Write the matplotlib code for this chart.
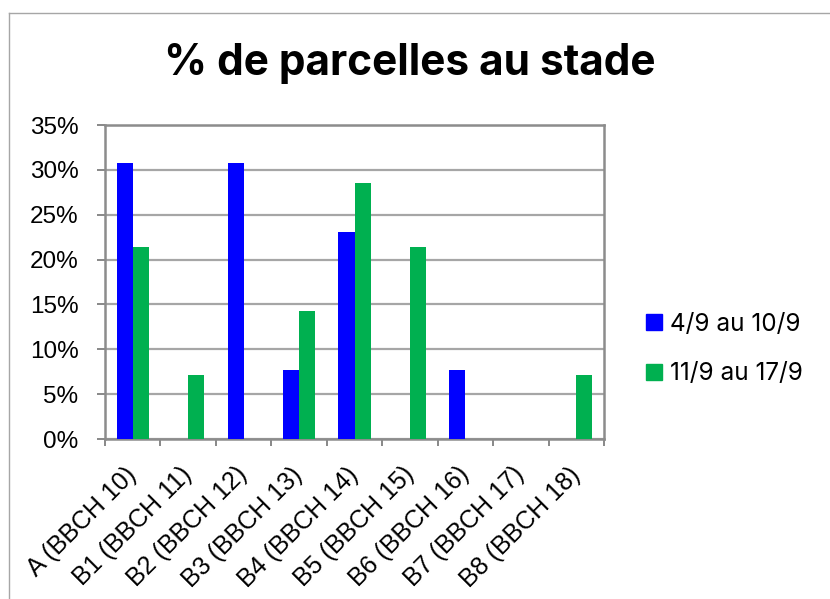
import matplotlib
matplotlib.use("Agg")
import matplotlib.pyplot as plt
from matplotlib.lines import Line2D
import numpy as np

categories = ["A (BBCH 10)", "B1 (BBCH 11)", "B2 (BBCH 12)", "B3 (BBCH 13)",
              "B4 (BBCH 14)", "B5 (BBCH 15)", "B6 (BBCH 16)", "B7 (BBCH 17)",
              "B8 (BBCH 18)"]
series_names = ["4/9 au 10/9", "11/9 au 17/9"]
week1 = [30.77, 0, 30.77, 7.69, 23.08, 0, 7.69, 0, 0]
week2 = [21.43, 7.14, 0, 14.29, 28.57, 21.43, 0, 0, 7.14]
yticks = [0, 5, 10, 15, 20, 25, 30, 35]
colors = ["#0000FF", "#00B050"]

fig = plt.figure(figsize=(8.30, 5.99), dpi=100)
ax = fig.add_axes([105/830, 1 - 439/599, (604-105)/830, (439-125)/599])

x = np.arange(len(categories))
w = 0.29
ax.bar(x - w/2, week1, w, color=colors[0], label=series_names[0], zorder=3)
ax.bar(x + w/2, week2, w, color=colors[1], label=series_names[1], zorder=3)

ax.set_xlim(-0.5, len(categories) - 0.5)
ax.set_ylim(0, 35)
ax.set_yticks(yticks)
ax.set_yticklabels([f"{v}%" for v in yticks], fontsize=17.5, family="Liberation Sans")
ax.yaxis.grid(True, color="#A6A6A6", linewidth=1.6, zorder=0)
ax.set_axisbelow(True)

ax.set_xticks(x)
ax.set_xticklabels(categories, rotation=45, ha="right", va="center",
                   rotation_mode="anchor", fontsize=18, family="Liberation Sans")
ax.tick_params(axis="x", which="major", length=0, pad=23)
ax.set_xticks(np.arange(-0.5, len(categories)), minor=True)
ax.tick_params(axis="x", which="minor", length=5, color="#888888", width=1.4)
ax.tick_params(axis="y", length=6, color="#888888", width=1.4, pad=13)

for s in ax.spines.values():
    s.set_color("#8C8C8C")
    s.set_linewidth(1.8)

fig.text(410/830, 1 - 64/599, "% de parcelles au stade", ha="center", va="center",
         fontsize=30.5, fontweight="bold", family="Inter")

handles = [Line2D([0], [0], marker="s", linestyle="none", markersize=11,
                  markerfacecolor=c, markeredgecolor=c) for c in colors]
fig.legend(handles, series_names, loc="center left",
           bbox_to_anchor=(620/830, 1 - 349/599), frameon=False,
           prop={"family": "Inter", "size": 17.5}, handletextpad=0.15,
           labelspacing=1.1, handlelength=1.0)

# outer chart frame
fig.add_artist(Line2D([9/830, 9/830], [0, 1 - 13/599], transform=fig.transFigure,
                      color="#A6A6A6", linewidth=1))
fig.add_artist(Line2D([9/830, 1], [1 - 13/599, 1 - 13/599], transform=fig.transFigure,
                      color="#A6A6A6", linewidth=1))

fig.savefig("out.png", dpi=100)
